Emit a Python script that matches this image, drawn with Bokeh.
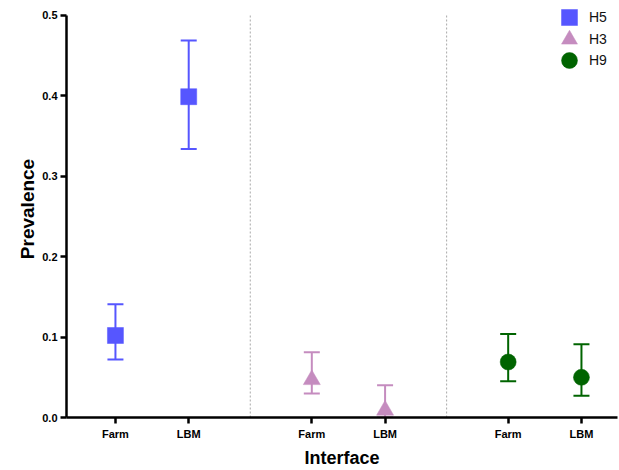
from bokeh.plotting import figure
from bokeh.models import (ColumnDataSource, Whisker, TeeHead, Legend, LegendItem,
                          FixedTicker, Range1d, NumeralTickFormatter)
from bokeh.embed import file_html
from bokeh.resources import INLINE

# ---- data ----
interfaces = ["Farm", "LBM"]
subtypes = ["H5", "H3", "H9"]
h5_prev = [0.102, 0.399]
h5_lower = [0.072, 0.334]
h5_upper = [0.141, 0.469]
h3_prev = [0.047, 0.009]
h3_lower = [0.030, 0.000]
h3_upper = [0.081, 0.040]
h9_prev = [0.069, 0.050]
h9_lower = [0.045, 0.027]
h9_upper = [0.104, 0.091]
y_ticks = [0.0, 0.1, 0.2, 0.3, 0.4, 0.5]

series = {
    "H5": (h5_prev, h5_lower, h5_upper),
    "H3": (h3_prev, h3_lower, h3_upper),
    "H9": (h9_prev, h9_lower, h9_upper),
}

# ---- style / layout ----
colors = {"H5": "#5656FF", "H3": "#C58CBF", "H9": "#006400"}
markers = {"H5": "square", "H3": "triangle", "H9": "circle"}
marker_sizes = {"H5": 16, "H3": 17, "H9": 16}
legend_offsets = {"H5": 380, "H3": 358, "H9": 337}  # legend box bottoms (px above frame bottom)
group_step = 2.68
FONT = "Liberation Sans"
y_top = y_ticks[-1] + 15 * (y_ticks[-1] - y_ticks[0]) / 403.0  # room above axis end for legend

p = figure(width=619, height=470, output_backend="svg", toolbar_location=None,
           x_range=Range1d(-0.668, 6.852), y_range=Range1d(y_ticks[0], y_top),
           min_border_left=66, min_border_right=2, min_border_top=0, min_border_bottom=52)
p.outline_line_color = None
p.xgrid.visible = False
p.ygrid.visible = False
p.background_fill_color = "white"
p.border_fill_color = "white"

tick_pos = []
tick_lab = {}
div_x = []
for g, st in enumerate(subtypes):
    prev, lo, up = series[st]
    xs = [round(g * group_step + i, 3) for i in range(len(interfaces))]
    for x, lab in zip(xs, interfaces):
        tick_pos.append(x)
        tick_lab[x] = lab
    src = ColumnDataSource(dict(x=xs, y=prev, lower=lo, upper=up))
    c = colors[st]
    w = Whisker(source=src, base="x", lower="lower", upper="upper",
                line_color=c, line_width=2, level="underlay",
                upper_head=TeeHead(size=16, line_color=c, line_width=2),
                lower_head=TeeHead(size=16, line_color=c, line_width=2))
    p.add_layout(w)
    r = p.scatter("x", "y", source=src, marker=markers[st], size=marker_sizes[st],
                  fill_color=c, line_color=c, line_width=0.5)
    leg = Legend(items=[LegendItem(label=st, renderers=[r])],
                 location=(483, legend_offsets[st]), orientation="vertical",
                 glyph_width=40, glyph_height=40, spacing=0, padding=0, margin=0,
                 label_standoff=-3, label_text_font=FONT, label_text_font_size="14px",
                 label_text_color="#111111",
                 label_height=20, border_line_color=None, background_fill_alpha=0)
    p.add_layout(leg)
    if g < len(subtypes) - 1:
        div_x.append((xs[-1] + (g + 1) * group_step) / 2)

# dotted group separators, spanning the value axis
p.segment(x0=div_x, x1=div_x, y0=[y_ticks[0]] * len(div_x), y1=[y_ticks[-1]] * len(div_x),
          line_color="#a8a8a8", line_width=1, line_dash="2 2", level="underlay")

# axes
for ax in (p.xaxis[0], p.yaxis[0]):
    ax.axis_line_width = 2.5
    ax.axis_line_color = "black"
    ax.major_tick_line_width = 2.5
    ax.major_tick_line_color = "black"
    ax.major_tick_in = 0
    ax.major_tick_out = 6
    ax.minor_tick_line_color = None
    ax.major_label_text_font = FONT
    ax.major_label_text_font_style = "bold"
    ax.major_label_text_font_size = "11px"
    ax.major_label_text_color = "black"
    ax.axis_label_text_font = FONT
    ax.axis_label_text_font_style = "bold"
    ax.axis_label_text_font_size = "18px"
    ax.axis_label_text_color = "black"

p.yaxis.ticker = FixedTicker(ticks=y_ticks)
p.yaxis.formatter = NumeralTickFormatter(format="0.0")
p.yaxis.bounds = (y_ticks[0], y_ticks[-1])
p.yaxis.axis_label = "Prevalence"
p.yaxis.axis_label_text_font_size = "19px"
p.yaxis.major_label_standoff = 3
p.yaxis.axis_label_standoff = 1

p.xaxis.ticker = FixedTicker(ticks=tick_pos)
p.xaxis.major_label_overrides = tick_lab
p.xaxis.axis_label = "Interface"
p.xaxis.major_label_standoff = 4
p.xaxis.axis_label_standoff = 5

open("out.html", "w").write(file_html(p, INLINE))
